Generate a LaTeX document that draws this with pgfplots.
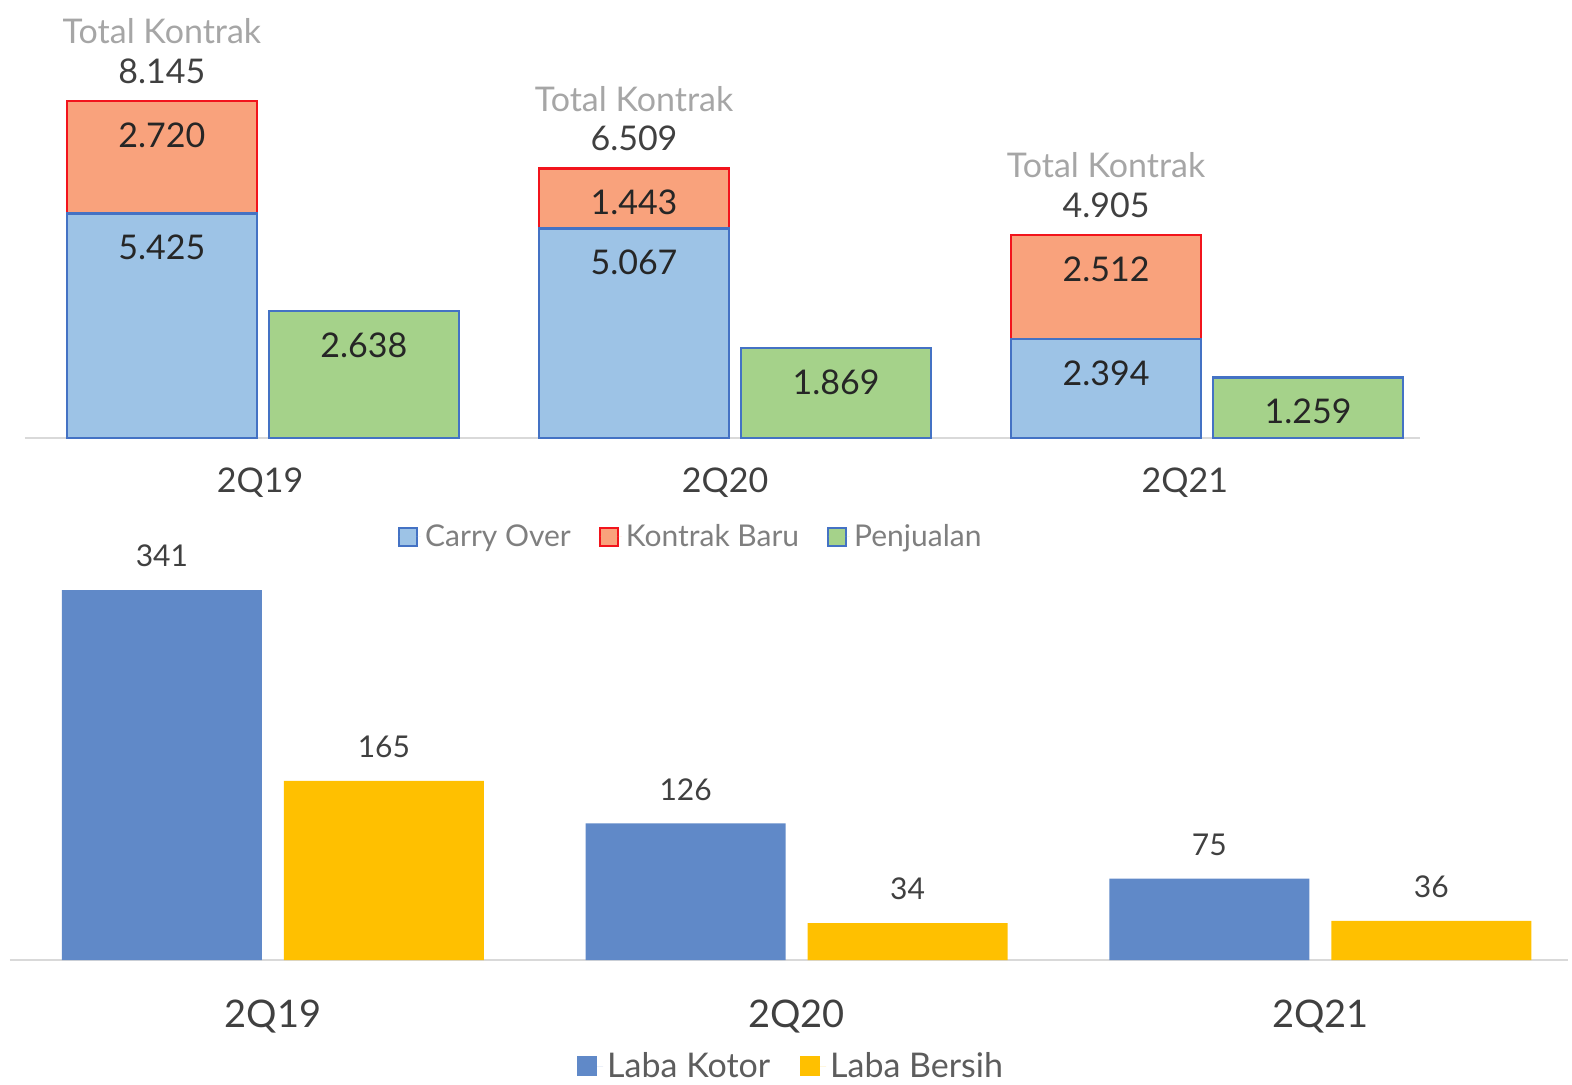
\documentclass[border=0pt]{standalone}
\usepackage{fontspec}
\setmainfont{Lato}
\usepackage{pgfplots}
\pgfplotsset{compat=1.18}

\definecolor{cofill}{HTML}{9DC3E6}
\definecolor{blueline}{HTML}{4472C4}
\definecolor{kbfill}{HTML}{F9A27C}
\definecolor{kbline}{HTML}{F2141C}
\definecolor{pjfill}{HTML}{A5D28A}
\definecolor{lkfill}{HTML}{6089C8}
\definecolor{lbfill}{HTML}{FFC000}
\definecolor{baseln}{HTML}{D9D9D9}
\definecolor{txt}{HTML}{404040}
\definecolor{vtxt}{HTML}{262626}
\definecolor{tkgray}{HTML}{A6A6A6}
\definecolor{leggray}{HTML}{7F7F7F}

\newcommand{\fs}[1]{\fontsize{#1}{#1}\selectfont}

\pgfplotsset{
  base/.style={scale only axis, enlargelimits=false, clip=false, ymin=0,
    axis y line=none, axis x line*=bottom,
    x axis line style={-, draw=baseln, line width=1pt},
    major tick length=0pt, ytick=\empty, point meta=explicit symbolic},
  inbar/.style={every node near coord/.append style={font=\fs{17}, text=vtxt, yshift=-17pt}},
}

\begin{document}
\begin{tikzpicture}
\useasboundingbox (0,0) rectangle (786pt,542pt);

% top chart: contracts; the red bar runs up to the total, carry over drawn over it
\begin{axis}[base, at={(12.5pt,323pt)}, anchor=south west,
  width=697.5pt, height=206.9pt, xmin=-0.504, xmax=2.451, ymax=10,
  ybar, bar width=95pt,
  xtick={-0.006,0.979,1.953}, xticklabels={2Q19,2Q20,2Q21},
  xticklabel style={font=\fs{17}, text=txt, anchor=center, yshift=-22.5pt},
  nodes near coords,
  every node near coord/.append style={anchor=center},
  legend style={at={(0.478,-0.239)}, anchor=center, draw=none, fill=none,
    legend columns=-1, font=\fs{15}, text=leggray,
    /tikz/every even column/.append style={column sep=12pt}},
  legend image code/.code={\draw[#1, line width=1pt] (0pt,-4.5pt) rectangle (9pt,4.5pt);
    \path[draw=none] (0pt,0pt) -- (11pt,0pt);}]
\addlegendimage{fill=cofill, draw=blueline}
\addlegendentry{Carry Over}
\addlegendimage{fill=kbfill, draw=kbline}
\addlegendentry{Kontrak Baru}
\addlegendimage{fill=pjfill, draw=blueline}
\addlegendentry{Penjualan}
\addplot[fill=kbfill, draw=kbline, line width=1.2pt, bar shift=-50.5pt, forget plot, inbar]
  coordinates {(0,8.145)[2.720] (1,6.509)[1.443] (2,4.905)[2.512]};
\addplot[fill=cofill, draw=blueline, line width=1.2pt, bar shift=-50.5pt, forget plot, inbar]
  coordinates {(0,5.425)[5.425] (1,5.067)[5.067] (2,2.394)[2.394]};
\addplot[draw=none, fill=none, bar shift=-50.5pt, forget plot,
  every node near coord/.append style={font=\fs{17}, text=txt, yshift=15pt}]
  coordinates {(0,8.145)[8.145] (1,6.509)[6.509] (2,4.905)[4.905]};
\addplot[draw=none, fill=none, bar shift=-50.5pt, forget plot,
  nodes near coords={Total Kontrak},
  every node near coord/.append style={font=\fs{17}, text=tkgray, yshift=35pt}]
  coordinates {(0,8.145)[a] (1,6.509)[b] (2,4.905)[c]};
\end{axis}

% top chart: sales, own scale
\begin{axis}[base, hide axis, at={(12.5pt,323pt)}, anchor=south west,
  width=697.5pt, height=206.9pt, xmin=-0.504, xmax=2.451, ymax=8.603,
  ybar, bar width=95pt, nodes near coords,
  every node near coord/.append style={anchor=center}]
\addplot[fill=pjfill, draw=blueline, line width=1.2pt, bar shift=50.5pt, inbar]
  coordinates {(0,2.638)[2.638] (1,1.869)[1.869] (2,1.259)[1.259]};
\end{axis}

% bottom chart: profits
\begin{axis}[base, at={(5pt,62pt)}, anchor=south west,
  width=779pt, height=217pt, xmin=-0.502, xmax=2.473, ymax=400,
  ybar, bar width=100pt,
  xtick={0,1,2}, xticklabels={2Q19,2Q20,2Q21},
  xticklabel style={font=\fs{19}, text=txt, anchor=center, yshift=-28.5pt},
  nodes near coords,
  every node near coord/.append style={font=\fs{15}, text=txt, anchor=center, yshift=17pt},
  legend style={at={(0.502,-0.245)}, anchor=center, draw=none, fill=none,
    legend columns=-1, font=\fs{17}, text=txt!85,
    /tikz/every even column/.append style={column sep=13pt}},
  legend image code/.code={\fill[#1] (0pt,-5pt) rectangle (10pt,5pt);
    \path[draw=none] (0pt,0pt) -- (13pt,0pt);}]
\addplot[fill=lkfill, draw=none, bar shift=-55.5pt]
  coordinates {(0,341)[341] (1,126)[126] (2,75)[75]};
\addlegendentry{Laba Kotor}
\addplot[fill=lbfill, draw=none, bar shift=55.5pt]
  coordinates {(0,165)[165] (1,34)[34] (2,36)[36]};
\addlegendentry{Laba Bersih}
\end{axis}
\end{tikzpicture}
\end{document}
